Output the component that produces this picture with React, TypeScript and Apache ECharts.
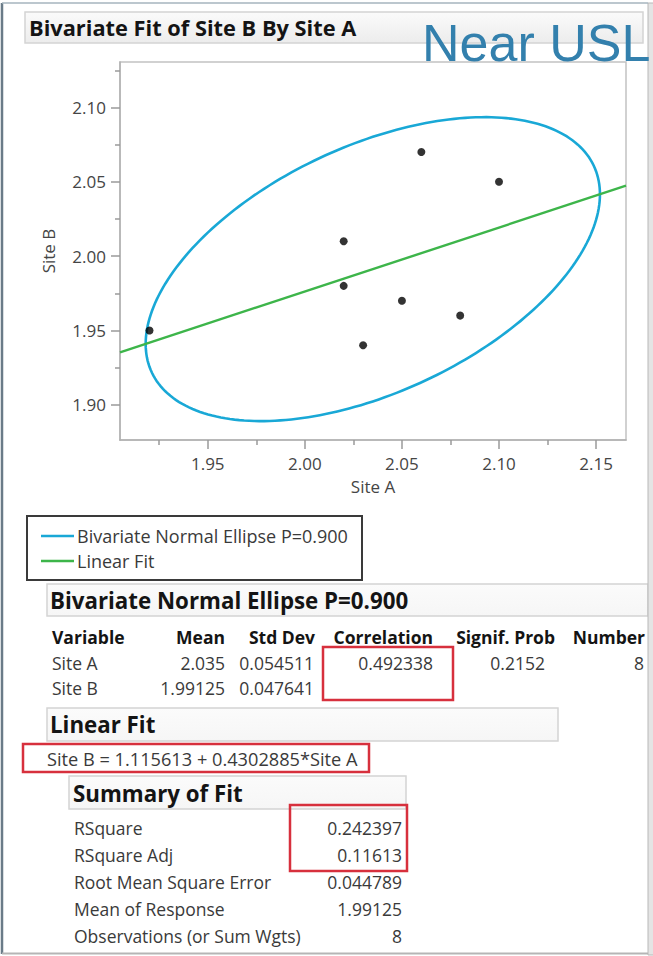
import React, { useEffect, useRef } from "react";
import * as echarts from "echarts";

// ---------- data ----------
const siteA = [1.92, 2.02, 2.02, 2.03, 2.05, 2.06, 2.08, 2.1];
const siteB = [1.95, 2.01, 1.98, 1.94, 1.97, 2.07, 1.96, 2.05];

const xTicks = [1.95, 2.0, 2.05, 2.1, 2.15];
const xMinorTicks = [1.925, 1.975, 2.025, 2.075, 2.125];
const yTicks = [1.9, 1.95, 2.0, 2.05, 2.1];
const yMinorTicks = [1.925, 1.975, 2.025, 2.075, 2.125];
const xRange = [1.9048, 2.1654];
const yRange = [1.8763, 2.1306];

const ellipseP = 0.9;
const ellipseVariables = ["Site A", "Site B"];
const ellipseMeans = [2.035, 1.99125];
const ellipseStdDevs = [0.054511, 0.047641];
const ellipseCorrelation = 0.492338;
const ellipseSignifProb = 0.2152;
const ellipseNumber = 8;
const ellipseHeaders = ["Variable", "Mean", "Std Dev", "Correlation", "Signif. Prob", "Number"];

const fitIntercept = 1.115613;
const fitSlope = 0.4302885;

const summaryLabels = [
  "RSquare",
  "RSquare Adj",
  "Root Mean Square Error",
  "Mean of Response",
  "Observations (or Sum Wgts)",
];
const summaryValues = ["0.242397", "0.11613", "0.044789", "1.99125", "8"];

const ELLIPSE_NAME = "Bivariate Normal Ellipse P=0.900";
const FIT_NAME = "Linear Fit";

// ---------- styling ----------
const FONT = "'Open Sans', 'Noto Sans', sans-serif";
const ELLIPSE_COLOR = "#19a8d6";
const FIT_COLOR = "#3db54a";
const TEXT = "#3a3a3a";
const HEAD = "#141414";
const RED = "#d7303d";

function txt(text: string, x: number, y: number, o: any = {}) {
  const align = o.align || "left";
  return {
    type: "text",
    x,
    y,
    z: o.z ?? 50,
    style: {
      text,
      fontFamily: o.fontFamily || FONT,
      fontSize: o.fontSize || 17.5,
      fontWeight: o.fontWeight || "normal",
      fill: o.fill || TEXT,
      align,
      textAlign: align,
      verticalAlign: "middle",
      textVerticalAlign: "middle",
    },
  };
}
function rect(x: number, y: number, w: number, h: number, style: any, z = 1) {
  return { type: "rect", z, shape: { x, y, width: w, height: h }, style };
}
function line(x1: number, y1: number, x2: number, y2: number, stroke: string, lineWidth: number, z = 60) {
  return { type: "line", z, shape: { x1, y1, x2, y2 }, style: { stroke, lineWidth } };
}

const barStyle = (fill = "#f6f6f6") => ({
  fill: new echarts.graphic.LinearGradient(0, 0, 0, 1, [
    { offset: 0, color: "#fbfbfb" },
    { offset: 1, color: fill },
  ]),
  stroke: "#d4d4d4",
  lineWidth: 1.5,
});
const redBox = { fill: "none", stroke: RED, lineWidth: 2.5 };

export default function App() {
  const ref = useRef<HTMLDivElement>(null);

  useEffect(() => {
    if (!ref.current) return;
    const chart = echarts.init(ref.current, undefined, { renderer: "svg" });

    const chi = Math.sqrt(-2 * Math.log(1 - ellipseP));
    const fitData = xRange.map((x) => [x, fitIntercept + fitSlope * x]);
    const points = siteA.map((a, i) => [a, siteB[i]]);

    const graphic: any[] = [];
    // outer frame
    graphic.push(line(2, 3, 2, 954, "#6a7b88", 2.5));
    graphic.push(line(2, 3, 648, 3, "#a6b4be", 1.5));
    graphic.push(rect(648, 3, 6, 952, { fill: "#e4e4e4", stroke: "#b8b8b8", lineWidth: 1 }, 55));
    graphic.push(line(2, 953.5, 648, 953.5, "#b5b5b5", 2));

    // title bar
    graphic.push(rect(25, 12, 618, 31, barStyle("#ececec")));
    graphic.push(txt("Bivariate Fit of Site B By Site A", 29, 27, { fontSize: 21.8, fontWeight: "bold", fill: HEAD }));
    graphic.push(txt("Near USL", 422, 43, { fontFamily: "'Liberation Sans', Arial, sans-serif", fontSize: 52, fill: "#3380ad", z: 100 }));

    // legend frame
    graphic.push(rect(27, 516, 335, 64, { fill: "none", stroke: "#3a3a3a", lineWidth: 2 }));

    // Bivariate Normal Ellipse section
    graphic.push(rect(47, 584, 601, 32, barStyle()));
    graphic.push(txt(ELLIPSE_NAME, 50, 600, { fontSize: 22.3, fontWeight: "bold", fill: HEAD }));
    const colRight = [0, 225, 315, 433, 555, 645];
    ellipseHeaders.forEach((h, i) => {
      if (i === 0) graphic.push(txt(h, 52, 637, { fontWeight: "bold", fill: HEAD }));
      else graphic.push(txt(h, colRight[i], 637, { fontWeight: "bold", fill: HEAD, align: "right" }));
    });
    const rowY = [663, 688];
    ellipseVariables.forEach((v, i) => {
      graphic.push(txt(v, 52, rowY[i]));
      graphic.push(txt(String(ellipseMeans[i]), 225, rowY[i], { align: "right" }));
      graphic.push(txt(String(ellipseStdDevs[i]), 314, rowY[i], { align: "right" }));
    });
    graphic.push(txt(String(ellipseCorrelation), 433, rowY[0], { align: "right" }));
    graphic.push(txt(String(ellipseSignifProb), 545, rowY[0], { align: "right" }));
    graphic.push(txt(String(ellipseNumber), 644, rowY[0], { align: "right" }));
    graphic.push(rect(323, 647, 130, 53, redBox, 60));

    // Linear Fit section
    graphic.push(rect(47, 708, 511, 33, barStyle()));
    graphic.push(txt("Linear Fit", 50, 724, { fontSize: 22.3, fontWeight: "bold", fill: HEAD }));
    graphic.push(rect(23, 744, 346, 28, redBox, 60));
    graphic.push(txt(`Site B = ${fitIntercept} + ${fitSlope}*Site A`, 47, 759, { fontSize: 18.2 }));

    // Summary of Fit
    graphic.push(rect(69, 776, 337, 33, barStyle()));
    graphic.push(txt("Summary of Fit", 73, 793, { fontSize: 22.3, fontWeight: "bold", fill: HEAD }));
    const sumY = [828, 855, 882, 909, 936];
    summaryLabels.forEach((l, i) => {
      graphic.push(txt(l, 74, sumY[i]));
      graphic.push(txt(summaryValues[i], 402, sumY[i], { align: "right" }));
    });
    graphic.push(rect(290, 805, 117, 66, redBox, 60));

    const axisLabelStyle = { fontFamily: FONT, fontSize: 17, color: "#454545" };

    const option: any = {
      animation: false,
      backgroundColor: "#ffffff",
      textStyle: { fontFamily: FONT },
      grid: {
        left: 120,
        top: 62,
        width: 506,
        height: 378,
        show: true,
        borderColor: "#c2c2c2",
        borderWidth: 1.5,
        backgroundColor: "transparent",
      },
      legend: {
        orient: "vertical",
        left: 41,
        top: 525,
        padding: 0,
        itemGap: 3,
        itemWidth: 33,
        itemHeight: 2.5,
        selectedMode: false,
        textStyle: { fontFamily: FONT, fontSize: 18, color: TEXT, lineHeight: 22, padding: [0, 0, 0, -2] },
        data: [
          { name: ELLIPSE_NAME, icon: "rect", itemStyle: { color: ELLIPSE_COLOR } },
          { name: FIT_NAME, icon: "rect", itemStyle: { color: FIT_COLOR } },
        ],
      },
      xAxis: [
        {
          type: "value",
          min: xRange[0],
          max: xRange[1],
          position: "bottom",
          name: "Site A",
          nameLocation: "middle",
          nameGap: 38,
          nameTextStyle: axisLabelStyle,
          axisLine: { show: true, onZero: false, lineStyle: { color: "#b0b0b0", width: 1.5 } },
          axisTick: { show: true, customValues: xTicks, length: 9, lineStyle: { color: "#9a9a9a", width: 1.5 } },
          axisLabel: { customValues: xTicks, formatter: (v: number) => v.toFixed(2), margin: 15, ...axisLabelStyle },
          splitLine: { show: false },
        },
        {
          type: "value",
          min: xRange[0],
          max: xRange[1],
          position: "bottom",
          axisLine: { show: false, onZero: false },
          axisTick: { show: true, customValues: xMinorTicks, length: 5, lineStyle: { color: "#9a9a9a", width: 1.5 } },
          axisLabel: { show: false },
          splitLine: { show: false },
        },
      ],
      yAxis: [
        {
          type: "value",
          min: yRange[0],
          max: yRange[1],
          position: "left",
          name: "Site B",
          nameLocation: "middle",
          nameGap: 63,
          nameTextStyle: axisLabelStyle,
          axisLine: { show: true, onZero: false, lineStyle: { color: "#b0b0b0", width: 1.5 } },
          axisTick: { show: true, customValues: yTicks, length: 9, lineStyle: { color: "#9a9a9a", width: 1.5 } },
          axisLabel: { customValues: yTicks, formatter: (v: number) => v.toFixed(2), margin: 14, ...axisLabelStyle },
          splitLine: { show: false },
        },
        {
          type: "value",
          min: yRange[0],
          max: yRange[1],
          position: "left",
          axisLine: { show: false, onZero: false },
          axisTick: { show: true, customValues: yMinorTicks, length: 5, lineStyle: { color: "#9a9a9a", width: 1.5 } },
          axisLabel: { show: false },
          splitLine: { show: false },
        },
      ],
      series: [
        {
          name: ELLIPSE_NAME,
          type: "custom",
          xAxisIndex: 0,
          yAxisIndex: 0,
          itemStyle: { color: ELLIPSE_COLOR },
          data: [[ellipseMeans[0], ellipseMeans[1], ellipseStdDevs[0], ellipseStdDevs[1], ellipseCorrelation]],
          renderItem: (_params: any, api: any) => {
            const mx = api.value(0);
            const my = api.value(1);
            const sx = api.value(2);
            const sy = api.value(3);
            const r = api.value(4);
            const pts: number[][] = [];
            const n = 240;
            for (let i = 0; i <= n; i++) {
              const t = (i / n) * Math.PI * 2;
              const x = mx + chi * sx * Math.cos(t);
              const y = my + chi * sy * (r * Math.cos(t) + Math.sqrt(1 - r * r) * Math.sin(t));
              pts.push(api.coord([x, y]));
            }
            return {
              type: "polygon",
              shape: { points: pts },
              style: { fill: "none", stroke: ELLIPSE_COLOR, lineWidth: 2.6 },
            };
          },
          z: 2,
        },
        {
          name: FIT_NAME,
          type: "line",
          xAxisIndex: 0,
          yAxisIndex: 0,
          data: fitData,
          symbol: "none",
          lineStyle: { color: FIT_COLOR, width: 2.4 },
          itemStyle: { color: FIT_COLOR },
          z: 3,
        },
        {
          type: "scatter",
          xAxisIndex: 0,
          yAxisIndex: 0,
          data: points,
          symbolSize: 8,
          itemStyle: { color: "#000000" },
          z: 4,
        },
      ],
      graphic,
    };

    chart.setOption(option);
    return () => chart.dispose();
  }, []);

  return (
    <div
      ref={ref}
      style={{ position: "absolute", left: 0, top: 0, width: 653, height: 956, background: "#fff" }}
    />
  );
}
